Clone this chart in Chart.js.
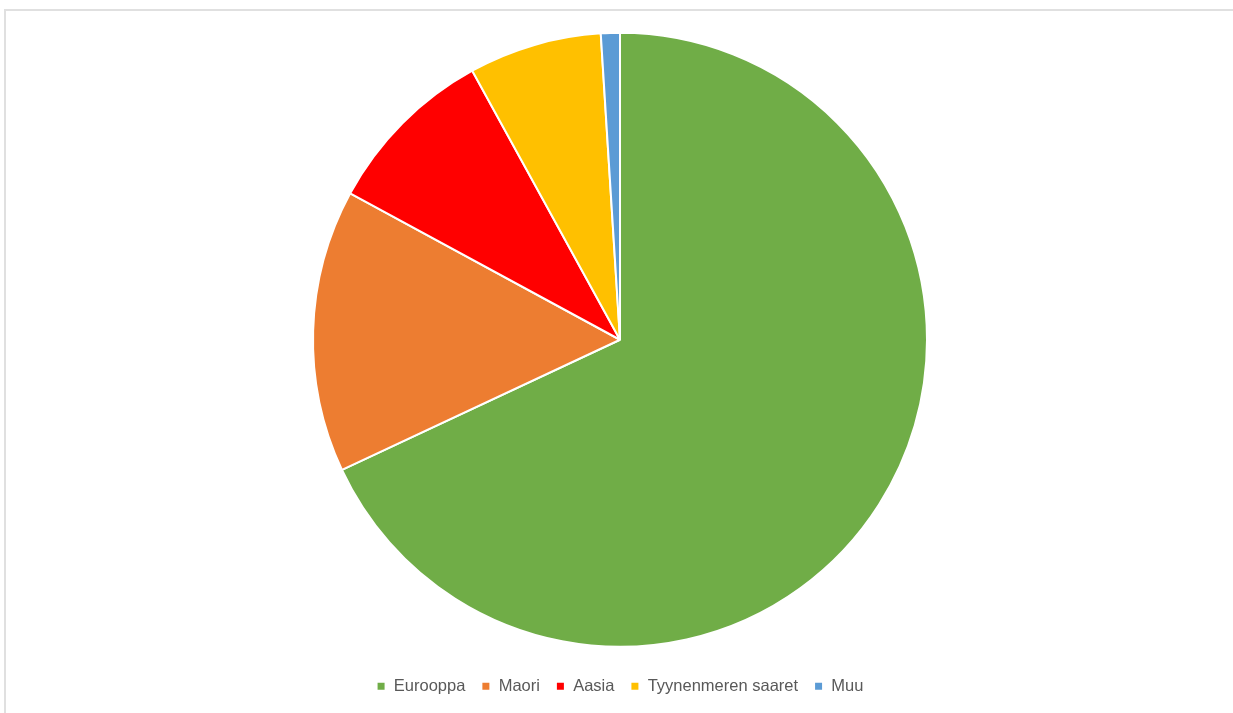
<!DOCTYPE html>
<html>
<head>
<meta charset="utf-8">
<script src="https://cdn.jsdelivr.net/npm/chart.js@4/dist/chart.umd.min.js"></script>
<style>
  html, body { margin: 0; padding: 0; background: #fff; overflow: hidden; }
  .frame {
    position: absolute;
    left: 4px;
    top: 9px;
    width: 1240px;
    height: 720px;
    border: 2px solid #e0e0e0;
    box-sizing: border-box;
  }
  .chart_box {
    position: absolute;
    left: 6px;
    top: 0;
    width: 1228px;
    height: 713px;
  }
</style>
</head>
<body>
<div class="frame"></div>
<div class="chart_box"><canvas id="myChart"></canvas></div>
<script>
"use strict";

// Data

const categories = ["Eurooppa", "Maori", "Aasia", "Tyynenmeren saaret", "Muu"];
const shares = [68.1, 14.9, 9.1, 7.0, 1.0];
const colors = ["#70AD47", "#ED7D31", "#FF0000", "#FFC000", "#5B9BD5"];

const ctx = document.getElementById("myChart").getContext("2d");
const myChart = new Chart(ctx, {
  type: "pie",
  data: {
    labels: categories,
    datasets: [
      {
        data: shares,
        backgroundColor: colors,
        borderColor: "#ffffff",
        borderWidth: 2,
        radius: 307,
      },
    ],
  },
  options: {
    responsive: true,
    maintainAspectRatio: false,
    animation: false,
    layout: {
      padding: { top: 17.5, bottom: 8.5 },
    },
    plugins: {
      tooltip: { enabled: false },
      legend: {
        position: "bottom",
        labels: {
          boxWidth: 9,
          boxHeight: 9,
          padding: 16,
          color: "#595959",
          font: { family: "Liberation Sans, Arial, sans-serif", size: 16.5 },
        },
      },
    },
  },
});
</script>
</body>
</html>
